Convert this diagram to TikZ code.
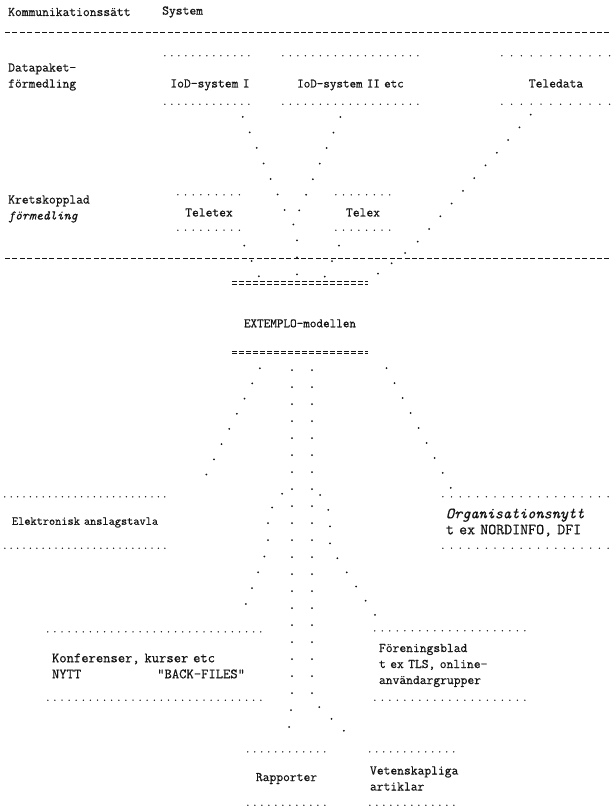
\documentclass[tikz,border=0pt]{standalone}
\usepackage{fontspec}
\usepackage{tikz}
\newfontfamily\typewfont{Latin Modern Mono}[FakeBold=0.6]
\definecolor{ink}{HTML}{141414}
\tikzset{
  typed/.style={font=\typewfont\fontsize{13.2}{16}\selectfont,text=ink,inner sep=0pt},
  dotbox/.style={typed,align=center,inner xsep=0pt,inner ysep=0pt},
  dotrule/.style={draw=ink,line width=1.5pt,line cap=round,dash pattern=on 0pt off #1},
  dotrule/.default=7pt,
  dotline/.style={draw=ink,line width=2pt,line cap=round,dash pattern=on 0pt off 17pt},
  hyphenrule/.style={draw=ink,line width=0.9pt,dash pattern=on 5pt off 2.4pt},
  eqrule/.style={draw=ink,line width=0.8pt,dash pattern=on 5pt off 2pt},
}
\begin{document}
\begin{tikzpicture}[x=1pt,y=-1pt]
  \useasboundingbox (0,0) rectangle (610,810);
  \node[typed,anchor=west] (sattlbl) at (8,12) {Kommunikationssätt};
  \node[typed,anchor=west] (syslbl) at (162,12) {System};
  \node[typed,anchor=west,align=left] (paketlbl) at (8,77) {Datapaket-\\förmedling};
  \node[typed,anchor=west,align=left] (kretslbl) at (8,209) {Kretskopplad\\\textit{förmedling}};

  \node[dotbox,text width=90pt,minimum height=48pt,text height=18pt,text depth=3pt] (iodone) at (210,80) {IoD-system I};
  \node[dotbox,text width=135pt,minimum height=48pt,text height=18pt,text depth=3pt,
    font=\typewfont\fontsize{12.7}{16}\selectfont] (iodtwo) at (350.5,80) {IoD-system II etc};
  \node[dotbox,text width=108pt,minimum height=48pt,text height=18pt,text depth=3pt] (teledata) at (556,80) {Teledata};
  \node[dotbox,text width=62pt,minimum height=35pt] (teletex) at (209,212.5) {Teletex};
  \node[dotbox,text width=54pt,minimum height=35pt] (telex) at (363,212.5) {Telex};
  \node[dotbox,text width=136pt,minimum height=69pt,text height=19.5pt,text depth=0pt,
    font=\typewfont\fontsize{12.8}{16}\selectfont] (extemplo) at (300,317.5) {EXTEMPLO-modellen};
  \node[dotbox,text width=160pt,minimum height=51pt,
    font=\typewfont\fontsize{12}{16}\selectfont] (anslag) at (85,522.5) {Elektronisk anslagstavla};
  \node[dotbox,text width=159pt,inner xsep=3pt,minimum height=51pt,align=left,
    font=\typewfont\fontsize{15.5}{16}\selectfont] (orgnytt) at (525.5,522.5)
    {\textit{Organisationsnytt}\\t ex NORDINFO, DFI};
  \node[dotbox,text width=206pt,inner xsep=4pt,minimum height=68pt,align=left,
    font=\typewfont\fontsize{14.2}{16}\selectfont] (konf) at (155,666)
    {Konferenser, kurser etc\\NYTT\hspace{76pt}"BACK-FILES"};
  \node[dotbox,text width=145pt,inner xsep=4pt,minimum height=69pt,align=left] (foren) at (451.5,665.5)
    {Föreningsblad\\t ex TLS, online-\\användargrupper};
  \node[dotbox,text width=77pt,minimum height=53pt] (rapport) at (286.5,778.5) {Rapporter};
  \node[dotbox,text width=85pt,minimum height=53pt,align=left] (vetensk) at (412.5,778.5)
    {Vetenskapliga\\artiklar};

  \foreach \b/\p in {iodone/7pt,iodtwo/7.5pt,teledata/9.8pt,teletex/7.7pt,telex/7.7pt,anslag/6.4pt,
      orgnytt/8.7pt,konf/7.1pt,foren/7.5pt,rapport/7pt,vetensk/7pt}
    \draw[dotrule=\p] (\b.north west) -- (\b.north east) (\b.south west) -- (\b.south east);
  \foreach \s in {-1.3pt,1.3pt}{
    \draw[eqrule] ([yshift=\s]extemplo.north west) -- ([yshift=\s]extemplo.north east);
    \draw[eqrule] ([yshift=\s]extemplo.south west) -- ([yshift=\s]extemplo.south east);
  }

  \draw[hyphenrule] (5,32) -- (610,32);
  \draw[hyphenrule] (5,258) -- (610,258);

  \coordinate (joinl) at (286,213);
  \coordinate (joinr) at (298,213);
  \coordinate (join) at (297,230);
  \coordinate (tdturn) at (413,247);
  \coordinate (coll) at (292,700);
  \coordinate (colr) at (312,700);
  \coordinate (brl) at (292,480);
  \coordinate (brr) at (312,480);
  \coordinate (kbendone) at (268,513);
  \coordinate (kbendtwo) at (268,547);
  \coordinate (fbendone) at (330,513);
  \coordinate (fbendtwo) at (330,547);

  \draw[dotline,shorten <=14pt,shorten >=6pt] ([xshift=27pt]iodone.south) -- (joinl) -- (join) -- ([xshift=-3pt]extemplo.north);
  \draw[dotline,shorten <=14pt] ([xshift=-4.5pt]iodtwo.south) -- (joinr);
  \draw[dotline,shorten <=14pt,shorten >=6pt] ([xshift=-16pt]teledata.south) -- (tdturn) -- ([xshift=66pt]extemplo.north);
  \draw[dotline,shorten <=17pt,shorten >=6pt] ([xshift=28pt]teletex.south) -- ([xshift=-38pt]extemplo.north);
  \draw[dotline,shorten <=17pt,shorten >=6pt] ([xshift=-17pt]telex.south) -- ([xshift=22pt]extemplo.north);

  \draw[dotline,shorten <=18pt,shorten >=8pt] ([xshift=-32pt]extemplo.south) -- ([xshift=110pt]anslag.north);
  \draw[dotline,shorten <=18pt,shorten >=8pt] ([xshift=78pt]extemplo.south) -- ([xshift=-70pt]orgnytt.north);
  \draw[dotline,shorten <=18pt,shorten >=14pt] ([xshift=-8pt]extemplo.south) -- (coll) -- (rapport.north);
  \draw[dotline,shorten <=18pt,shorten >=14pt] ([xshift=12pt]extemplo.south) -- (colr) -- ([xshift=-47pt]vetensk.north);
  \draw[dotline,shorten <=17pt,shorten >=14pt] (brl) -- (kbendone) -- (kbendtwo) -- ([xshift=80pt]konf.north);
  \draw[dotline,shorten <=17pt,shorten >=14pt] (brr) -- (fbendone) -- (fbendtwo) -- ([xshift=-66pt]foren.north);
\end{tikzpicture}
\end{document}
